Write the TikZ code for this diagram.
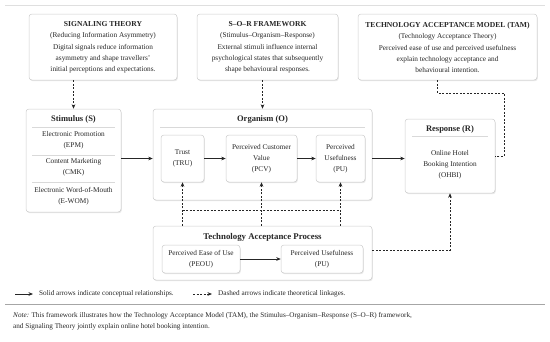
\documentclass[tikz,border=0pt]{standalone}
\usepackage{fontspec}
\setmainfont{Liberation Serif}
\usepackage{xcolor}
\usepackage{tikz}
\usetikzlibrary{arrows,positioning,calc,shadows,arrows.meta}

\newcommand{\boxtitle}[1]{{\fontsize{7.6}{11}\selectfont\bfseries #1}}

\begin{document}
\begin{tikzpicture}[x=1pt, y=-1pt,
  bx/.style={draw=gray!40, fill=white, rounded corners=3pt, line width=0.5pt,
    drop shadow={opacity=0.18, shadow xshift=0.8pt, shadow yshift=-1.2pt},
    align=center, inner sep=2pt, text=black!85,
    font=\fontsize{7.3}{11}\selectfont},
  theory/.style={bx, minimum height=66},
  hd/.style={inner sep=0pt, text=black!85,
    font=\fontsize{8.5}{10}\selectfont\bfseries},
  txt/.style={align=center, inner sep=0pt, text=black!85,
    font=\fontsize{7.3}{11}\selectfont},
  sep/.style={draw=gray!30, line width=0.6pt},
  arr/.style={->, >={Stealth[length=4.5pt,width=3.6pt]}, black!85, line width=0.6pt},
  dsh/.style={black!85, line width=0.6pt, dash pattern=on 2pt off 1.5pt},
  darr/.style={arr, dsh}]
  \useasboundingbox (0,0) rectangle (550,341);
  \draw[gray!25, line width=0.8pt] (5,5) -- (545,5);
  % Theory boxes
  \node[theory, minimum width=148] (sig) at (103,47)
    {\boxtitle{SIGNALING THEORY}\\(Reducing Information Asymmetry)\\[1pt]
     Digital signals reduce information\\asymmetry and shape travellers'\\initial perceptions and expectations.};
  \node[theory, minimum width=141] (sor) at (267.5,47)
    {\boxtitle{S--O--R FRAMEWORK}\\(Stimulus--Organism--Response)\\[1pt]
     External stimuli influence internal\\psychological states that subsequently\\shape behavioural responses.};
  \node[theory, minimum width=179] (tam) at (447.5,47)
    {\boxtitle{TECHNOLOGY ACCEPTANCE MODEL (TAM)}\\(Technology Acceptance Theory)\\[1pt]
     Perceived ease of use and perceived usefulness\\explain technology acceptance and\\behavioural intention.};
  % Stimulus
  \node[bx, minimum width=95, minimum height=103] (stim) at (73.5,160.5) {};
  \node[hd] (stimhd) at (73.5,119) {Stimulus (S)};
  \draw[sep] (32,127) -- (115,127);
  \node[txt] (epm) at (73.5,140.5) {Electronic Promotion\\(EPM)};
  \draw[sep] (32,155) -- (115,155);
  \node[txt] (cmk) at (73.5,167.5) {Content Marketing\\(CMK)};
  \draw[sep] (32,182) -- (115,182);
  \node[txt] (ewom) at (73.5,196.5) {Electronic Word-of-Mouth\\(E-WOM)};
  % Organism
  \node[bx, minimum width=219, minimum height=91] (org) at (262.5,154.5) {};
  \node[hd] (orghd) at (262.5,119) {Organism (O)};
  \draw[sep] (160,127) -- (365,127);
  \node[bx, minimum width=43, minimum height=47] (tru) at (182.5,158.5) {Trust\\(TRU)};
  \node[bx, minimum width=71, minimum height=47] (pcv) at (261.5,158.5)
    {Perceived Customer\\Value\\(PCV)};
  \node[bx, minimum width=49, minimum height=47] (pu) at (340.5,158.5)
    {Perceived\\Usefulness\\(PU)};
  % Response
  \node[bx, minimum width=90, minimum height=74] (resp) at (450,156) {};
  \node[hd] (resphd) at (450,129) {Response (R)};
  \draw[sep] (412,136) -- (488,136);
  \node[txt] (ohbi) at (450,165) {Online Hotel\\Booking Intention\\(OHBI)};
  % Technology acceptance process
  \node[bx, minimum width=219, minimum height=54] (tap) at (262.5,253) {};
  \node[hd, font=\fontsize{8.8}{10}\selectfont\bfseries] (taphd) at (262.5,237)
    {Technology Acceptance Process};
  \node[bx, minimum width=78, minimum height=28] (peou) at (201,259)
    {Perceived Ease of Use\\(PEOU)};
  \node[bx, minimum width=82, minimum height=28] (pu2) at (322,259)
    {Perceived Usefulness\\(PU)};
  % Solid arrows
  \draw[arr] (stim.east |- tru.west) -- (org.west |- tru.west);
  \draw[arr] (tru) -- (pcv);
  \draw[arr] (pcv) -- (pu);
  \draw[arr] (org.east |- pu.east) -- (resp.west |- pu.east);
  \draw[arr] (peou) -- (pu2);
  % Dashed arrows
  \draw[darr] (stim.north |- sig.south) -- (stim.north);
  \draw[darr] (org.north |- sor.south) -- (org.north);
  \draw[darr] (tru.south |- tap.north) -- (tru.south);
  \draw[darr] (pcv.south |- tap.north) -- (pcv.south);
  \draw[darr] (pu.south |- tap.north) -- (pu.south);
  \draw[dsh] (tru.south |- 0,210) -- (pu.south |- 0,210);
  \draw[darr] ([yshift=3pt]tap.east) -| (resp.south);
  \coordinate (tamturn) at (504,93);
  \draw[dsh] ([xshift=-10pt]tam.south) |- (tamturn) |- (resp.east);
  % Legend
  \node[txt, anchor=west, font=\fontsize{7.2}{11}\selectfont] (lsolid) at (39,294)
    {Solid arrows indicate conceptual relationships.};
  \node[txt, anchor=west, font=\fontsize{7.2}{11}\selectfont] (ldash) at (218,294)
    {Dashed arrows indicate theoretical linkages.};
  \coordinate (lsa) at (15,294);
  \coordinate (lda) at (193,294);
  \draw[arr] (lsa) -- ([xshift=-6pt]lsolid.west);
  \draw[darr] (lda) -- ([xshift=-6pt]ldash.west);
  \draw[gray!70, line width=0.8pt] (5,304) -- (545,304);
  % Note
  \node[txt, anchor=north west, align=left, font=\fontsize{7.2}{11}\selectfont] (note) at (13,312)
    {\textit{Note:} This framework illustrates how the Technology Acceptance Model (TAM), the Stimulus--Organism--Response (S--O--R) framework,\\
     and Signaling Theory jointly explain online hotel booking intention.};
\end{tikzpicture}
\end{document}
